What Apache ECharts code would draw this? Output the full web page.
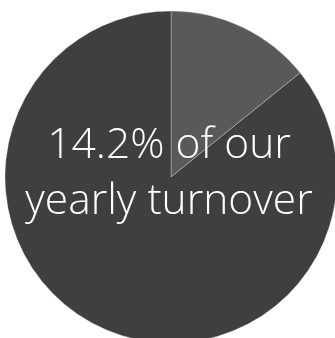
<!DOCTYPE html>
<html><head><meta charset="utf-8">
<script src="https://cdn.jsdelivr.net/npm/echarts@6/dist/echarts.min.js"></script>
<style>html,body{margin:0;padding:0;background:#fff}#c{width:335px;height:338px}</style>
</head><body><div id="c"></div>
<script>
const categories = ['Share', 'Rest'];
const values = [14.2, 85.8];
const colors = ['#5a5858', '#3f3f3f'];
const centerLines = ['14.2% of our', 'yearly turnover'];

const chart = echarts.init(document.getElementById('c'), null, {renderer: 'canvas'});
chart.setOption({
  animation: false,
  series: [{
    type: 'pie',
    center: [171, 177],
    radius: 166,
    startAngle: 90,
    clockwise: true,
    label: {show: false},
    labelLine: {show: false},
    emphasis: {disabled: true},
    itemStyle: {borderColor: 'rgba(255,255,255,0.3)', borderWidth: 1},
    data: categories.map((c, i) => ({name: c, value: values[i], itemStyle: {color: colors[i]}}))
  }],
  graphic: [{
    type: 'text',
    z: 100,
    zlevel: 1,
    x: 169,
    y: 118,
    style: {
      text: centerLines.join('\n'),
      fill: '#ffffff',
      fontFamily: 'Open Sans',
      fontWeight: 300,
      fontSize: 42.5,
      lineHeight: 56,
      align: 'center',
      verticalAlign: 'top'
    }
  }]
});
</script></body></html>
